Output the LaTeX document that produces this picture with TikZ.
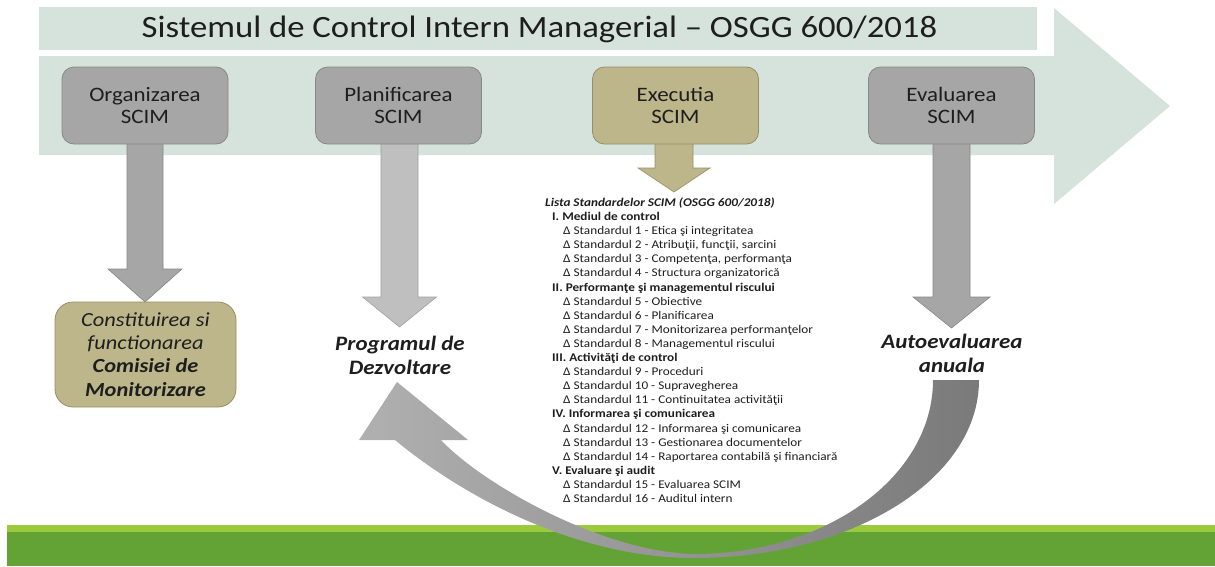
\documentclass[tikz,border=0pt]{standalone}
\usepackage{fontspec}
\setmainfont{Carlito}[FakeStretch=1.12]
\definecolor{band}{RGB}{214,227,220}
\definecolor{boxgray}{RGB}{166,166,166}
\definecolor{boxgrayd}{RGB}{135,135,135}
\definecolor{khaki}{RGB}{189,182,138}
\definecolor{khakid}{RGB}{150,143,100}
\definecolor{lgray}{RGB}{191,191,191}
\definecolor{lgrayd}{RGB}{160,160,160}
\definecolor{greenl}{RGB}{155,203,60}
\definecolor{greend}{RGB}{99,163,53}
\definecolor{txt}{RGB}{30,30,30}
\definecolor{curvel}{RGB}{176,176,176}
\definecolor{curver}{RGB}{122,122,122}
\newcommand{\mydownarrow}[7]{%
  \path[#1] (#2-#6,#3) -- (#2+#6,#3) -- (#2+#6,#4) -- (#2+#7,#4) -- (#2,#5)
    -- (#2-#7,#4) -- (#2-#6,#4) -- cycle;}
\begin{document}
\begin{tikzpicture}[x=1pt,y=-1pt,
  phase/.style={draw=boxgrayd, fill=boxgray, line width=0.8pt, rounded corners=12pt,
    minimum width=166pt, minimum height=77pt, align=center, inner sep=0pt,
    font=\fontsize{20.5}{21.5}\selectfont, text=txt},
  khakibox/.style={phase, fill=khaki, draw=khakid},
  grayarrow/.style={fill=boxgray, draw=boxgrayd, line width=0.6pt},
  lightarrow/.style={fill=lgray, draw=lgrayd, line width=0.6pt},
  khakiarrow/.style={fill=khaki, draw=khakid, line width=0.6pt},
  result/.style={align=center, inner sep=0pt, text=txt,
    font=\fontsize{20.5}{24}\selectfont\bfseries\itshape},
]
\useasboundingbox (0,0) rectangle (1215,566);
% background arrow band
\fill[band] (39,56) -- (1054,56) -- (1054,8) -- (1170,106) -- (1054,204)
  -- (1054,155) -- (39,155) -- cycle;
\fill[band] (39,7) rectangle (1037,50);
\node[anchor=base, inner sep=0pt, text=txt, font=\fontsize{31}{31}\selectfont]
  (title) at (539.5,37) {Sistemul de Control Intern Managerial – OSGG 600/2018};
% ground
\fill[greenl] (7,525) rectangle (1215,532);
\fill[greend] (7,532) rectangle (1215,566);
% down arrows
\mydownarrow{grayarrow}{145}{140}{269}{302}{18}{37}
\mydownarrow{lightarrow}{399.5}{140}{297}{327}{18.5}{37}
\mydownarrow{khakiarrow}{674}{140}{168}{192}{19}{36}
\mydownarrow{grayarrow}{951.5}{140}{297}{328}{18.5}{38.5}
% phase boxes
\node[phase] (org) at (145,105.5) {Organizarea\\SCIM};
\node[phase] (plan) at (398.5,105.5) {Planificarea\\SCIM};
\node[khakibox] (exec) at (675.5,105.5) {Executia\\SCIM};
\node[phase] (eval) at (951.5,105.5) {Evaluarea\\SCIM};
% commission box
\node[khakibox, minimum width=181pt, minimum height=105pt, rounded corners=18pt,
  font=\fontsize{20}{23.3}\selectfont] (com) at (145.5,354.5)
  {\textit{Constituirea si}\\\textit{functionarea}\\\textbf{\textit{Comisiei de}}\\\textbf{\textit{Monitorizare}}};
% results
\node[result] (prog) at (400,355) {Programul de\\Dezvoltare};
\node[result] (auto) at (952,353.5) {Autoevaluarea\\anuala};
% curved arrow
\path[left color=curvel, right color=curver]
  (979,380) .. controls (979,480) and (851,558) .. (694,558)
  .. controls (570,558) and (455,490) .. (395,440)
  -- (359,440) -- (397,382) -- (468,440) -- (441,440)
  .. controls (480,482) and (600,552) .. (694,554)
  .. controls (826,554) and (933,477) .. (933,380) -- cycle;
% list of standards
\node[anchor=north west, inner sep=0pt, align=left, text=txt,
  font=\fontsize{11.8}{14.1}\selectfont] (list) at (545,197.5) {%
\textbf{\textit{Lista Standardelor SCIM (OSGG 600/2018)}}\\
\hspace*{7pt}\textbf{I. Mediul de control}\\
\hspace*{18pt}Δ Standardul 1 - Etica şi integritatea\\
\hspace*{18pt}Δ Standardul 2 - Atribuţii, funcţii, sarcini\\
\hspace*{18pt}Δ Standardul 3 - Competenţa, performanţa\\
\hspace*{18pt}Δ Standardul 4 - Structura organizatorică\\
\hspace*{7pt}\textbf{II. Performanţe şi managementul riscului}\\
\hspace*{18pt}Δ Standardul 5 - Obiective\\
\hspace*{18pt}Δ Standardul 6 - Planificarea\\
\hspace*{18pt}Δ Standardul 7 - Monitorizarea performanţelor\\
\hspace*{18pt}Δ Standardul 8 - Managementul riscului\\
\hspace*{7pt}\textbf{III. Activităţi de control}\\
\hspace*{18pt}Δ Standardul 9 - Proceduri\\
\hspace*{18pt}Δ Standardul 10 - Supravegherea\\
\hspace*{18pt}Δ Standardul 11 - Continuitatea activităţii\\
\hspace*{7pt}\textbf{IV. Informarea şi comunicarea}\\
\hspace*{18pt}Δ Standardul 12 - Informarea şi comunicarea\\
\hspace*{18pt}Δ Standardul 13 - Gestionarea documentelor\\
\hspace*{18pt}Δ Standardul 14 - Raportarea contabilă şi financiară\\
\hspace*{7pt}\textbf{V. Evaluare şi audit}\\
\hspace*{18pt}Δ Standardul 15 - Evaluarea SCIM\\
\hspace*{18pt}Δ Standardul 16 - Auditul intern};
\end{tikzpicture}
\end{document}
